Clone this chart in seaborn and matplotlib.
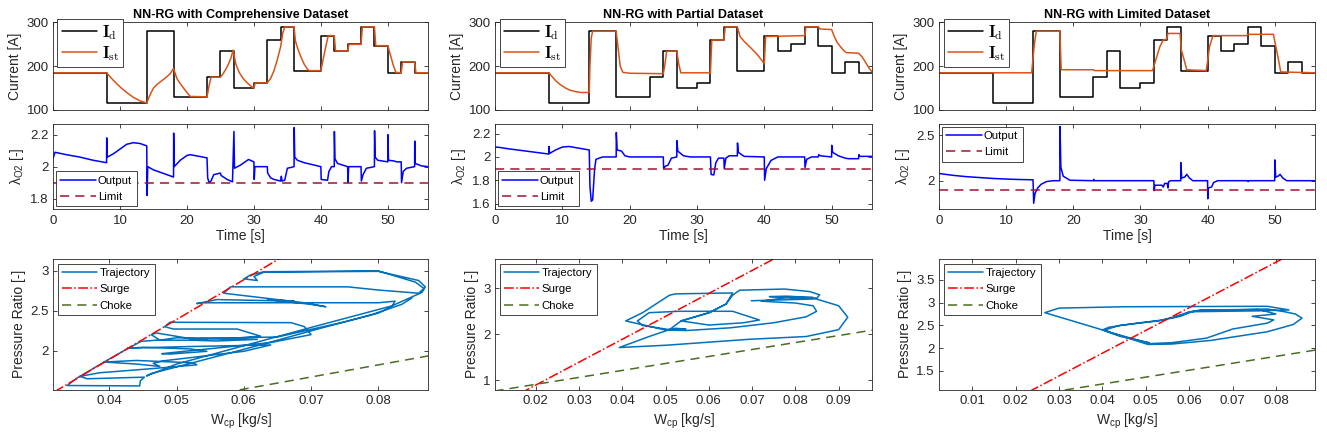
import numpy as np
import pandas as pd
import matplotlib
matplotlib.use("Agg")
import matplotlib.pyplot as plt
import seaborn as sns
from matplotlib.font_manager import FontProperties
from matplotlib.ticker import FuncFormatter

# ---------------- data ----------------
titles = ["NN-RG with Comprehensive Dataset", "NN-RG with Partial Dataset", "NN-RG with Limited Dataset"]

id_t = [0, 8, 14, 18, 23, 25, 27, 30, 32, 34, 36, 40, 42, 44, 46, 48, 50, 52, 54, 56]
id_v = [185, 115, 280, 130, 175, 235, 150, 162, 260, 290, 190, 270, 235, 250, 290, 247, 185, 210, 185, 185]

ist1_t = [0, 8, 9, 10, 11, 12, 13, 14, 14.5, 15, 15.5, 16, 16.5, 17, 17.5, 18, 18.5, 19, 19.5, 20, 20.5, 23, 23.3, 23.6,
          25, 25.4, 25.8, 26.2, 26.6, 26.9, 27.3, 27.8, 28.4, 29, 29.6, 30, 30.2, 32, 32.5, 33, 33.5, 34, 34.3, 34.6,
          36, 36.2, 36.6, 37, 37.5, 38, 38.3, 40, 40.6, 41.1, 42, 42.2, 44, 44.2, 46, 46.2, 48, 48.2, 50, 50.4, 50.8,
          51.2, 52, 52.2, 54, 54.2, 56]
ist1_v = [185, 185, 168, 153, 140, 129, 121, 116, 135, 150, 158, 164, 170, 176, 183, 195, 172, 160, 150, 140, 131, 130, 155, 175,
          175, 183, 193, 205, 220, 237, 205, 186, 172, 162, 154, 150, 162, 162, 172, 190, 215, 245, 275, 290,
          290, 258, 238, 222, 205, 193, 190, 190, 235, 270, 270, 235, 235, 250, 250, 290, 290, 247, 247, 225, 203,
          186, 185, 210, 210, 185, 185]

ist2_t = [0, 8, 8.5, 9, 9.7, 10.5, 11.2, 12, 12.8, 14, 14.1, 14.3, 14.5, 18, 18.3, 18.6, 19, 20, 25, 25.2, 25.5, 27,
          27.3, 27.6, 32, 32.2, 34, 34.2, 36, 36.4, 37, 38, 39, 40, 40.2, 46, 46.2, 48, 48.3, 50, 50.4, 50.8, 51.3,
          51.8, 52.2, 54, 54.5, 55, 55.5, 56]
ist2_v = [185, 185, 176, 167, 158, 150, 145, 142, 140, 140, 200, 265, 280, 280, 240, 200, 186, 184, 183, 200, 234, 235,
          205, 185, 185, 260, 260, 290, 290, 268, 257, 242, 226, 206, 268, 270, 290, 290, 285, 284, 268, 255, 245,
          236, 231, 230, 222, 210, 197, 187]

ist3_t = [0, 13.8, 14.2, 14.5, 18, 18.2, 23, 23.2, 31.8, 32.9, 33.4, 33.9, 34.1, 35.9, 36.1, 36.5, 36.9, 39.8, 40.3,
          40.8, 45.8, 46, 49.8, 50.1, 50.5, 50.9, 56]
ist3_v = [185, 185, 250, 280, 280, 192, 192, 190, 190, 245, 260, 262, 275, 275, 237, 215, 192, 190, 245, 270, 270, 273,
          273, 250, 220, 187, 185]

lam1_t = [0, 0.3, 2, 4, 6, 8, 8.02, 8.1, 9, 10, 11, 12, 13, 14, 14.05, 14.15, 15, 16, 17, 18, 18.02, 18.1, 19, 20, 20.5,
          23, 23.1, 23.3, 23.6, 24, 25, 25.1, 26, 26.8, 27.02, 27.1, 28, 29.2, 30, 30.05, 30.15, 32, 32.05, 32.5, 33,
          34, 34.1, 34.2, 34.6, 35, 36, 36.02, 36.1, 36.5, 37.5, 38, 40, 40.05, 41, 41.2, 41.6, 42, 42.02, 42.1, 42.5,
          44, 44.05, 44.15, 46, 46.05, 46.3, 46.8, 48, 48.02, 48.1, 48.5, 50, 50.02, 50.1, 51, 51.3, 52, 52.05, 52.3,
          52.8, 54, 54.02, 54.1, 55, 56]
lam1_v = [2.05, 2.09, 2.075, 2.06, 2.04, 2.025, 2.18, 2.06, 2.08, 2.11, 2.14, 2.15, 2.145, 2.13, 1.82, 2.0, 1.98, 1.965,
          1.95, 1.935, 2.21, 2.0, 2.04, 2.07, 2.075, 2.055, 1.93, 1.9, 1.91, 1.95, 1.96, 1.945, 1.92, 1.905, 2.22, 1.99,
          2.01, 2.045, 2.03, 1.92, 2.0, 2.0, 1.96, 1.93, 1.92, 1.91, 1.94, 1.91, 1.915, 1.99, 2.0, 2.245, 2.06, 2.04,
          2.025, 2.02, 2.0, 1.92, 1.915, 1.97, 2.0, 2.0, 2.22, 2.05, 2.02, 2.0, 1.9, 2.0, 2.0, 1.91, 1.95, 1.99, 2.0,
          2.225, 2.06, 2.04, 2.03, 2.2, 2.04, 2.035, 2.03, 2.03, 1.9, 1.97, 1.99, 2.0, 2.16, 2.02, 2.005, 2.0]

lam2_t = [0, 0.3, 2, 4, 6, 8, 8.02, 8.1, 9, 10, 11, 12, 14, 14.1, 14.3, 14.5, 14.8, 15, 16, 18, 18.02, 18.15, 18.8,
          19.3, 20, 25, 25.05, 25.3, 25.7, 26.2, 27, 27.02, 27.15, 28, 29, 32, 32.1, 32.5, 32.8, 33.2, 34, 34.05, 34.3,
          34.8, 36, 36.02, 36.15, 37, 40, 40.05, 40.3, 41, 42, 46, 46.05, 46.3, 47, 48, 48.1, 48.3, 50, 50.02, 50.15,
          51, 52, 52.5, 54, 54.05, 54.2, 56]
lam2_v = [2.08, 2.085, 2.07, 2.055, 2.04, 2.025, 2.09, 2.03, 2.06, 2.085, 2.09, 2.08, 2.06, 1.75, 1.62, 1.63, 1.9, 1.98,
          2.0, 2.0, 2.21, 2.06, 2.05, 2.01, 2.0, 2.0, 1.9, 1.92, 1.93, 1.99, 2.0, 2.14, 2.05, 2.01, 2.0, 2.0, 1.85,
          1.845, 1.95, 1.99, 1.99, 1.9, 1.99, 2.01, 2.01, 2.12, 2.04, 2.005, 2.0, 1.8, 1.9, 1.97, 2.0, 2.0, 1.91, 1.98,
          2.0, 2.0, 2.02, 2.01, 2.0, 2.1, 2.04, 2.01, 1.99, 1.985, 1.985, 2.02, 2.005, 2.005]

lam3_t = [0, 2, 4, 6, 8, 10, 12, 14, 14.05, 14.1, 14.3, 14.7, 15.2, 16, 17, 18, 18.02, 18.15, 18.5, 19.5, 23, 23.05,
          23.1, 32, 32.05, 32.15, 33.2, 33.4, 33.6, 34, 34.1, 34.2, 34.5, 36, 36.02, 36.15, 36.6, 36.9, 37.3, 37.8, 40,
          40.03, 40.1, 40.6, 40.9, 41.5, 46, 46.05, 46.1, 50, 50.02, 50.15, 50.5, 50.8, 51.2, 51.8, 56]
lam3_v = [2.08, 2.06, 2.045, 2.035, 2.025, 2.018, 2.013, 2.01, 1.9, 1.75, 1.86, 1.92, 1.96, 1.99, 2.0, 2.0, 2.6, 2.15,
          2.05, 2.005, 2.0, 2.015, 2.0, 2.0, 1.89, 1.95, 1.95, 1.93, 1.97, 1.97, 1.92, 1.99, 2.0, 2.0, 2.2, 2.03, 2.04,
          2.07, 2.03, 2.0, 2.0, 1.8, 1.92, 1.93, 1.98, 2.0, 2.0, 1.99, 2.0, 2.0, 2.23, 2.04, 2.05, 2.07, 2.03, 2.0, 2.0]

lam_limit = 1.9

traj1 = [(0.0545, 2.13), (0.0470, 2.13), (0.0447, 2.115), (0.0420, 1.99), (0.0395, 1.87), (0.0370, 1.745),
         (0.0352, 1.655), (0.0337, 1.56), (0.0445, 1.555), (0.0446, 1.62), (0.0452, 1.665), (0.0367, 1.645),
         (0.0356, 1.675), (0.0385, 1.72), (0.0460, 1.77), (0.0530, 1.82), (0.0525, 1.845), (0.0440, 1.875),
         (0.0392, 1.855), (0.0440, 1.83), (0.0475, 1.80), (0.0465, 1.84), (0.0480, 1.87), (0.0600, 1.99),
         (0.0640, 2.07), (0.0520, 2.05), (0.0427, 2.03), (0.0450, 2.04), (0.0520, 2.02), (0.0545, 1.99),
         (0.0490, 1.955), (0.0478, 1.96), (0.0500, 1.98), (0.0640, 2.10), (0.0700, 2.20), (0.0690, 2.30),
         (0.0670, 2.35), (0.0490, 2.355), (0.0482, 2.30), (0.0495, 2.27), (0.0590, 2.27), (0.0625, 2.18),
         (0.0580, 2.15), (0.0500, 2.16), (0.0475, 2.13), (0.0462, 2.20), (0.0470, 2.22), (0.0520, 2.15),
         (0.0620, 2.14), (0.0560, 2.12), (0.0520, 2.13), (0.0535, 2.15), (0.0650, 2.17), (0.0750, 2.36),
         (0.0800, 2.47), (0.0820, 2.55), (0.0825, 2.62), (0.0800, 2.60), (0.0540, 2.60), (0.0530, 2.59),
         (0.0560, 2.64), (0.0675, 2.62), (0.0635, 2.64), (0.0700, 2.58), (0.0722, 2.55), (0.0690, 2.60),
         (0.0570, 2.72), (0.0580, 2.80), (0.0755, 2.80), (0.0800, 2.76), (0.0860, 2.72), (0.0868, 2.78),
         (0.0855, 2.86), (0.0800, 3.0), (0.0630, 2.99), (0.0610, 2.95), (0.0600, 2.90), (0.0620, 2.88),
         (0.0615, 2.93), (0.0630, 2.985), (0.0800, 2.995), (0.0860, 2.88), (0.0870, 2.80), (0.0865, 2.73),
         (0.0820, 2.56), (0.0700, 2.29), (0.0600, 2.06), (0.0500, 1.83), (0.0455, 1.68), (0.0462, 1.71),
         (0.0530, 1.86), (0.0620, 2.06), (0.0710, 2.27), (0.0790, 2.45), (0.0835, 2.58), (0.0850, 2.66)]

traj2 = [(0.0501, 2.09), (0.0524, 2.13), (0.0547, 2.11), (0.0509, 2.10), (0.0447, 2.19), (0.0435, 2.29),
         (0.0462, 2.47), (0.0530, 2.50), (0.0655, 2.50), (0.0717, 2.31), (0.0680, 2.25), (0.0600, 2.20),
         (0.0536, 2.29), (0.0601, 2.47), (0.0640, 2.66), (0.0655, 2.85), (0.0671, 2.96), (0.0775, 2.985),
         (0.0833, 2.93), (0.0856, 2.86), (0.0850, 2.79), (0.0800, 2.79), (0.0740, 2.82), (0.0779, 2.83),
         (0.0841, 2.80), (0.0780, 2.80), (0.0721, 2.72), (0.0800, 2.68), (0.0841, 2.62), (0.0849, 2.50),
         (0.0825, 2.38), (0.0750, 2.25), (0.0650, 2.14), (0.0547, 2.08), (0.0501, 2.09), (0.0408, 2.29),
         (0.0447, 2.47), (0.0509, 2.85), (0.0524, 2.88), (0.0655, 2.90), (0.0640, 2.66), (0.0601, 2.47),
         (0.0536, 2.29), (0.0509, 2.10), (0.0462, 1.95), (0.0393, 1.71), (0.0501, 1.76), (0.0694, 1.89),
         (0.0825, 1.95), (0.0900, 2.10), (0.0921, 2.37), (0.0900, 2.62), (0.0848, 2.77), (0.0698, 2.73)]

traj3 = [(0.0508, 2.12), (0.0440, 2.26), (0.0400, 2.40), (0.0415, 2.46), (0.0480, 2.55), (0.0540, 2.62),
         (0.0580, 2.70), (0.0600, 2.78), (0.0625, 2.84), (0.0760, 2.85), (0.0800, 2.75), (0.0745, 2.70),
         (0.0795, 2.62), (0.0780, 2.55), (0.0700, 2.42), (0.0640, 2.22), (0.0560, 2.12), (0.0510, 2.10),
         (0.0420, 2.34), (0.0405, 2.40), (0.0440, 2.50), (0.0530, 2.60), (0.0590, 2.75), (0.0610, 2.82),
         (0.0780, 2.86), (0.0820, 2.80), (0.0845, 2.75), (0.0860, 2.66), (0.0840, 2.52), (0.0780, 2.36),
         (0.0650, 2.17), (0.0560, 2.09), (0.0505, 2.08), (0.0400, 2.40), (0.0267, 2.78), (0.0300, 2.88),
         (0.0450, 2.91), (0.0780, 2.92), (0.0830, 2.84), (0.0760, 2.82), (0.0600, 2.80), (0.0560, 2.66)]

surge_w = [0.0, 0.1]
surge_pr = [-0.11, 4.89]
choke_w = [0.0, 0.1]
choke_pr = [0.603, 2.123]

press_xlim = [(0.0316, 0.0874), (0.0106, 0.0977), (0.0023, 0.0890)]
press_ylim = [(1.51, 3.15), (0.795, 3.64), (1.09, 3.96)]
press_xticks = [[0.04, 0.05, 0.06, 0.07, 0.08],
                [0.02, 0.03, 0.04, 0.05, 0.06, 0.07, 0.08, 0.09],
                [0.01, 0.02, 0.03, 0.04, 0.05, 0.06, 0.07, 0.08]]
press_yticks = [[2, 2.5, 3], [1, 2, 3], [1.5, 2, 2.5, 3, 3.5]]
lam_ylim = [(1.735, 2.267), (1.553, 2.283), (1.687, 2.627)]
lam_yticks = [[1.8, 2, 2.2], [1.6, 1.8, 2, 2.2], [2, 2.5]]
lam_legloc = ["lower left", "lower left", "upper left"]

# ---------------- style ----------------
sns.set_theme(style="white")
GREY = "#262626"
plt.rcParams.update({
    "font.family": ["Liberation Sans", "DejaVu Sans"],
    "mathtext.fontset": "custom",
    "mathtext.rm": "Liberation Sans",
    "mathtext.it": "Liberation Sans:italic",
    "mathtext.bf": "Liberation Sans:bold",
    "mathtext.default": "regular",
    "axes.edgecolor": GREY,
    "axes.linewidth": 0.6,
    "axes.labelcolor": GREY,
    "axes.labelsize": 10,
    "xtick.direction": "in", "ytick.direction": "in",
    "xtick.top": True, "ytick.right": True,
    "xtick.bottom": True, "ytick.left": True,
    "xtick.major.size": 3, "ytick.major.size": 3,
    "xtick.major.width": 0.6, "ytick.major.width": 0.6,
    "xtick.major.pad": 4, "ytick.major.pad": 3,
    "xtick.color": GREY, "ytick.color": GREY,
    "xtick.labelsize": 9.5, "ytick.labelsize": 9.5,
    "legend.fontsize": 8.2,
})

W, H = 1327, 445
fig = plt.figure(figsize=(W / 100, H / 100), dpi=100)


def add_ax(l, t, r, b):
    return fig.add_axes([l / W, 1 - b / H, (r - l) / W, (b - t) / H])


cols = [(53, 428), (495, 872), (939, 1315)]
fmt = FuncFormatter(lambda v, p: ("%g" % round(v, 6)))

ist_sets = [(ist1_t, ist1_v), (ist2_t, ist2_v), (ist3_t, ist3_v)]
lam_sets = [(lam1_t, lam1_v), (lam2_t, lam2_v), (lam3_t, lam3_v)]
trajs = [traj1, traj2, traj3]

cm_prop = FontProperties(size=12, math_fontfamily="cm")


def style_legend(leg):
    leg.get_frame().set_linewidth(0.6)
    leg.get_frame().set_edgecolor(GREY)
    for t in leg.get_texts():
        t.set_color("black")


for i, (l, r) in enumerate(cols):
    # ---- current ----
    ax = add_ax(l, 22.5, r, 110)
    sns.lineplot(x=id_t, y=id_v, ax=ax, color="black", lw=1.1, drawstyle="steps-post",
                 estimator=None, sort=False, label=r"$\mathbf{I}_{\mathrm{d}}$")
    sns.lineplot(x=ist_sets[i][0], y=ist_sets[i][1], ax=ax, color="#D95319", lw=1.1,
                 estimator=None, sort=False, label=r"$\mathbf{I}_{\mathrm{st}}$")
    ax.set_xlim(0, 56)
    ax.set_ylim(100, 300)
    ax.set_yticks([100, 200, 300])
    ax.set_xticks([0, 10, 20, 30, 40, 50])
    ax.set_xticklabels([])
    ax.set_ylabel("Current [A]", labelpad=3)
    ax.set_title(titles[i], fontsize=9, fontweight="bold", pad=3, color="black")
    leg = ax.legend(loc="upper left", bbox_to_anchor=(0.012, 1.04), prop=cm_prop, frameon=True,
                    fancybox=False, framealpha=1, handlelength=2.1,
                    handletextpad=0.3, borderpad=0.25, labelspacing=0.12, borderaxespad=0.0)
    style_legend(leg)

    # ---- lambda ----
    ax = add_ax(l, 124, r, 209)
    sns.lineplot(x=lam_sets[i][0], y=lam_sets[i][1], ax=ax, color="#0000FF", lw=1.1,
                 estimator=None, sort=False, label="Output")
    sns.lineplot(x=[0, 56], y=[lam_limit, lam_limit], ax=ax, color="#A2142F", lw=1.1,
                 estimator=None, sort=False, label="Limit")
    ax.lines[-1].set_dashes([6, 4])
    ax.set_xlim(0, 56)
    ax.set_ylim(*lam_ylim[i])
    ax.set_yticks(lam_yticks[i])
    ax.yaxis.set_major_formatter(fmt)
    ax.set_xticks([0, 10, 20, 30, 40, 50])
    ax.set_xlabel("Time [s]", labelpad=2)
    ax.set_ylabel(r"$\lambda_{O2}$ [-]", labelpad=3)
    leg = ax.legend(loc=lam_legloc[i], frameon=True, fancybox=False, framealpha=1,
                    handlelength=3.1, handletextpad=0.2, borderpad=0.4, labelspacing=0.5,
                    borderaxespad=0.25)
    style_legend(leg)

    # ---- pressure ratio ----
    ax = add_ax(l, 259, r, 389.5)
    tw = [p[0] for p in trajs[i]]
    tp = [p[1] for p in trajs[i]]
    sns.lineplot(x=tw, y=tp, ax=ax, color="#0072BD", lw=1.1, estimator=None, sort=False,
                 label="Trajectory")
    sns.lineplot(x=surge_w, y=surge_pr, ax=ax, color="#FF0000", lw=1.1, estimator=None, sort=False,
                 label="Surge")
    ax.lines[-1].set_linestyle("-.")
    sns.lineplot(x=choke_w, y=choke_pr, ax=ax, color="#4A6E22", lw=1.1, estimator=None, sort=False,
                 label="Choke")
    ax.lines[-1].set_dashes([6, 4])
    ax.set_xlim(*press_xlim[i])
    ax.set_ylim(*press_ylim[i])
    ax.set_xticks(press_xticks[i])
    ax.set_yticks(press_yticks[i])
    ax.xaxis.set_major_formatter(fmt)
    ax.yaxis.set_major_formatter(fmt)
    ax.set_xlabel(r"$W_{cp}$ [kg/s]", labelpad=3)
    ax.set_ylabel("Pressure Ratio [-]", labelpad=3)
    leg = ax.legend(loc="upper left", frameon=True, fancybox=False, framealpha=1,
                    handlelength=3.1, handletextpad=0.2, borderpad=0.4, labelspacing=0.55,
                    borderaxespad=0.4)
    style_legend(leg)

fig.savefig("out.png", dpi=100)
